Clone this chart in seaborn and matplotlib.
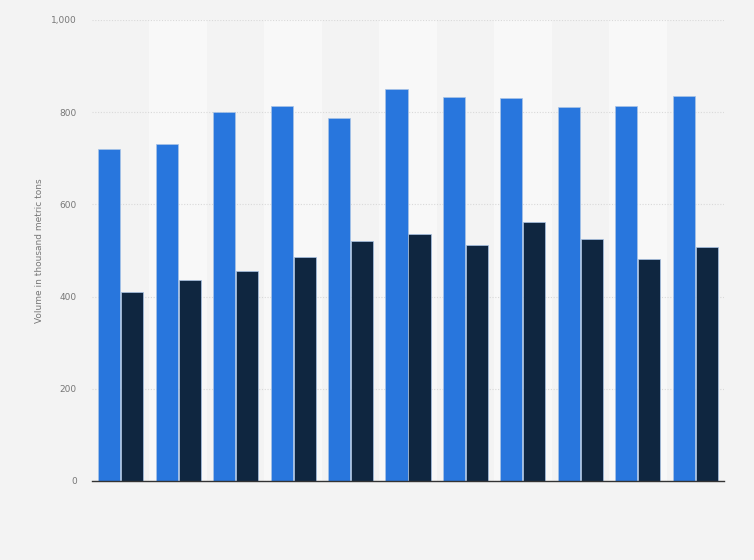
import matplotlib

matplotlib.use("Agg")
import matplotlib.pyplot as plt
import matplotlib.ticker as mticker
import pandas as pd
import seaborn as sns

# data (thousand metric tons)
groups = [f"G{i}" for i in range(1, 12)]
series_names = ["Series 1", "Series 2"]
series_1 = [720, 730, 800, 813, 787, 850, 832, 830, 811, 813, 835]
series_2 = [411, 435, 455, 485, 520, 535, 511, 562, 524, 481, 507]
y_ticks = [0, 200, 400, 600, 800, 1000]

BG = "#f3f3f3"
BAND = "#f8f8f8"
BLUE = "#2876dd"
NAVY = "#0f2640"

df = pd.DataFrame(
    {
        "group": groups * 2,
        "series": [series_names[0]] * len(groups) + [series_names[1]] * len(groups),
        "value": series_1 + series_2,
    }
)

sns.set_theme(style="white")
plt.rcParams["font.family"] = ["DejaVu Sans"]

fig = plt.figure(figsize=(7.54, 5.6), dpi=100, facecolor=BG)
ax = fig.add_axes([92 / 754, 1 - 481 / 560, (724 - 92) / 754, (481 - 20) / 560])
ax.set_facecolor(BG)

for i in range(len(groups)):
    if i % 2 == 1:
        ax.axvspan(i - 0.5, i + 0.5, color=BAND, zorder=0, lw=0)

sns.barplot(
    data=df,
    x="group",
    y="value",
    hue="series",
    palette=[BLUE, NAVY],
    saturation=1,
    width=0.8,
    gap=0.04,
    edgecolor="#a9c4e6",
    linewidth=0.5,
    legend=False,
    ax=ax,
    zorder=3,
)

ax.set_xlim(-0.5, len(groups) - 0.5)
ax.set_ylim(0, 1000)
ax.set_yticks(y_ticks)
ax.yaxis.set_major_formatter(mticker.FuncFormatter(lambda v, _: f"{int(v):,}"))
ax.grid(axis="y", color="#d9d9d9", linestyle=(0, (1, 1.5)), linewidth=0.8, zorder=1)
ax.set_axisbelow(True)

ax.set_xticks(range(len(groups)))
ax.set_xticklabels([])
ax.tick_params(axis="x", length=0)
ax.tick_params(axis="y", length=0, labelsize=6.5, labelcolor="#777777", pad=11)

ax.set_xlabel("")
ax.set_ylabel("Volume in thousand metric tons", fontsize=6.5, color="#777777", labelpad=5)

for side in ["top", "right", "left"]:
    ax.spines[side].set_visible(False)
ax.spines["bottom"].set_color("#333333")
ax.spines["bottom"].set_linewidth(1.0)
ax.spines["bottom"].set_zorder(5)

fig.savefig("out.png", dpi=100, facecolor=BG)
